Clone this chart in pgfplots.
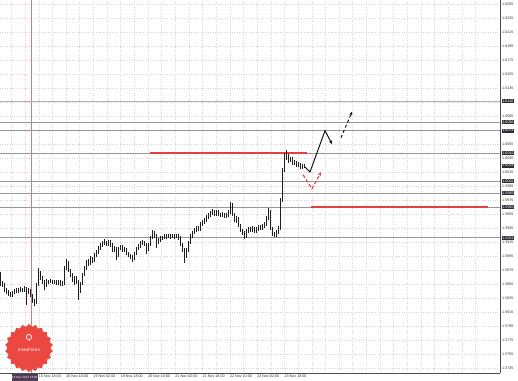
\documentclass[border=0pt]{standalone}
\usepackage{pgfplots}
\pgfplotsset{compat=1.18}
\usepackage{pgfplotstable}
\usepackage{fontspec}
\setmainfont{Liberation Sans}
\usetikzlibrary{shapes.geometric,arrows.meta}
\definecolor{levelgray}{RGB}{150,150,150}
\definecolor{lvlred}{RGB}{228,64,64}
\definecolor{boxc}{RGB}{45,45,55}
\definecolor{datebox}{RGB}{80,60,85}
\definecolor{logored}{RGB}{234,72,64}
\definecolor{sepline}{RGB}{205,125,125}
\definecolor{candle}{RGB}{30,30,30}

\pgfplotstableread{
x o h l c
0 1.5860 1.5872 1.5852 1.5856
2 1.5856 1.5859 1.5851 1.5854
4 1.5854 1.5856 1.5843 1.5846
6 1.5846 1.5849 1.5841 1.5844
8 1.5844 1.5847 1.5838 1.5841
10 1.5841 1.5843 1.5836 1.5839
12 1.5839 1.5845 1.5837 1.5842
14 1.5842 1.5848 1.5840 1.5845
16 1.5845 1.5849 1.5842 1.5846
18 1.5846 1.5850 1.5842 1.5845
20 1.5845 1.5851 1.5843 1.5848
22 1.5848 1.5850 1.5843 1.5846
24 1.5846 1.5852 1.5844 1.5848
26 1.5848 1.5850 1.5825 1.5844
28 1.5844 1.5849 1.5840 1.5846
30 1.5846 1.5848 1.5836 1.5839
32 1.5839 1.5841 1.5828 1.5831
34 1.5831 1.5834 1.5823 1.5828
36 1.5828 1.5856 1.5826 1.5854
38 1.5854 1.5878 1.5852 1.5872
40 1.5872 1.5874 1.5860 1.5864
42 1.5864 1.5866 1.5855 1.5858
44 1.5858 1.5860 1.5846 1.5852
46 1.5852 1.5862 1.5850 1.5859
48 1.5859 1.5861 1.5855 1.5858
50 1.5858 1.5862 1.5856 1.5859
52 1.5859 1.5861 1.5855 1.5858
54 1.5858 1.5860 1.5855 1.5858
56 1.5858 1.5860 1.5853 1.5856
58 1.5856 1.5861 1.5854 1.5858
60 1.5858 1.5860 1.5852 1.5855
62 1.5855 1.5859 1.5852 1.5856
64 1.5856 1.5881 1.5854 1.5878
66 1.5878 1.5891 1.5875 1.5886
68 1.5886 1.5888 1.5872 1.5875
70 1.5875 1.5877 1.5865 1.5868
72 1.5868 1.5870 1.5858 1.5861
74 1.5861 1.5867 1.5854 1.5864
76 1.5864 1.5866 1.5855 1.5858
78 1.5858 1.5860 1.5832 1.5846
80 1.5846 1.5858 1.5842 1.5856
82 1.5856 1.5871 1.5853 1.5869
84 1.5869 1.5880 1.5866 1.5878
86 1.5878 1.5889 1.5875 1.5886
88 1.5886 1.5890 1.5880 1.5885
90 1.5885 1.5895 1.5882 1.5892
92 1.5892 1.5894 1.5885 1.5889
94 1.5889 1.5899 1.5886 1.5896
96 1.5896 1.5904 1.5893 1.5901
98 1.5901 1.5909 1.5898 1.5906
100 1.5906 1.5914 1.5903 1.5911
102 1.5911 1.5917 1.5908 1.5914
104 1.5914 1.5919 1.5911 1.5915
106 1.5915 1.5917 1.5909 1.5912
108 1.5912 1.5918 1.5909 1.5916
110 1.5916 1.5918 1.5908 1.5911
112 1.5911 1.5913 1.5901 1.5904
114 1.5904 1.5909 1.5901 1.5906
116 1.5906 1.5908 1.5889 1.5896
118 1.5896 1.5908 1.5894 1.5906
120 1.5906 1.5911 1.5903 1.5908
122 1.5908 1.5910 1.5901 1.5904
124 1.5904 1.5908 1.5901 1.5905
126 1.5905 1.5907 1.5896 1.5899
128 1.5899 1.5901 1.5893 1.5896
130 1.5896 1.5898 1.5890 1.5894
132 1.5894 1.5896 1.5886 1.5891
134 1.5891 1.5900 1.5889 1.5898
136 1.5898 1.5908 1.5896 1.5906
138 1.5906 1.5912 1.5903 1.5909
140 1.5909 1.5916 1.5906 1.5914
142 1.5914 1.5918 1.5911 1.5915
144 1.5915 1.5917 1.5909 1.5912
146 1.5912 1.5914 1.5898 1.5904
148 1.5904 1.5913 1.5902 1.5911
150 1.5911 1.5923 1.5909 1.5921
152 1.5921 1.5932 1.5919 1.5928
154 1.5928 1.5930 1.5921 1.5924
156 1.5924 1.5926 1.5906 1.5915
158 1.5915 1.5920 1.5912 1.5918
160 1.5918 1.5924 1.5915 1.5922
162 1.5922 1.5924 1.5918 1.5921
164 1.5921 1.5926 1.5919 1.5924
166 1.5924 1.5926 1.5919 1.5922
168 1.5922 1.5926 1.5920 1.5924
170 1.5924 1.5926 1.5919 1.5922
172 1.5922 1.5926 1.5920 1.5924
174 1.5924 1.5926 1.5919 1.5922
176 1.5922 1.5927 1.5920 1.5924
178 1.5924 1.5926 1.5918 1.5921
180 1.5921 1.5923 1.5909 1.5912
182 1.5912 1.5914 1.5900 1.5904
184 1.5904 1.5906 1.5885 1.5895
186 1.5895 1.5906 1.5892 1.5904
188 1.5904 1.5917 1.5901 1.5915
190 1.5915 1.5926 1.5912 1.5924
192 1.5924 1.5931 1.5921 1.5929
194 1.5929 1.5935 1.5926 1.5932
196 1.5932 1.5938 1.5929 1.5935
198 1.5935 1.5938 1.5931 1.5934
200 1.5934 1.5943 1.5931 1.5941
202 1.5941 1.5947 1.5938 1.5944
204 1.5944 1.5949 1.5941 1.5946
206 1.5946 1.5953 1.5943 1.5951
208 1.5951 1.5957 1.5948 1.5954
210 1.5954 1.5959 1.5951 1.5956
212 1.5956 1.5962 1.5953 1.5958
214 1.5958 1.5960 1.5952 1.5955
216 1.5955 1.5960 1.5952 1.5958
218 1.5958 1.5960 1.5952 1.5955
220 1.5955 1.5957 1.5951 1.5954
222 1.5954 1.5958 1.5951 1.5955
224 1.5955 1.5957 1.5949 1.5952
226 1.5952 1.5957 1.5949 1.5954
228 1.5954 1.5961 1.5951 1.5958
230 1.5958 1.5972 1.5955 1.5968
232 1.5968 1.5970 1.5952 1.5955
234 1.5955 1.5957 1.5943 1.5946
236 1.5946 1.5952 1.5942 1.5949
238 1.5949 1.5951 1.5936 1.5939
240 1.5939 1.5941 1.5929 1.5932
242 1.5932 1.5934 1.5925 1.5928
244 1.5928 1.5930 1.5919 1.5924
246 1.5924 1.5933 1.5921 1.5931
248 1.5931 1.5937 1.5928 1.5934
250 1.5934 1.5936 1.5929 1.5932
252 1.5932 1.5938 1.5929 1.5935
254 1.5935 1.5937 1.5928 1.5931
256 1.5931 1.5937 1.5928 1.5934
258 1.5934 1.5939 1.5931 1.5936
260 1.5936 1.5939 1.5932 1.5935
262 1.5935 1.5941 1.5932 1.5938
264 1.5938 1.5944 1.5935 1.5941
266 1.5941 1.5952 1.5938 1.5949
268 1.5949 1.5964 1.5946 1.5958
270 1.5958 1.5960 1.5932 1.5935
272 1.5935 1.5937 1.5923 1.5926
274 1.5926 1.5929 1.5922 1.5925
276 1.5925 1.5932 1.5922 1.5929
278 1.5929 1.5938 1.5926 1.5935
280 1.5935 1.5978 1.5932 1.5975
282 1.5975 1.6021 1.5972 1.6018
284 1.6018 1.6042 1.6015 1.6039
286 1.6039 1.6046 1.6032 1.6038
288 1.6038 1.6040 1.6028 1.6032
290 1.6032 1.6037 1.6029 1.6034
292 1.6034 1.6036 1.6025 1.6028
294 1.6028 1.6032 1.6025 1.6029
296 1.6029 1.6031 1.6022 1.6025
298 1.6025 1.6029 1.6022 1.6026
300 1.6026 1.6028 1.6019 1.6022
302 1.6022 1.6027 1.6019 1.6024
304 1.6024 1.6026 1.6021 1.6024
}\candles

\begin{document}
\begin{tikzpicture}
\begin{axis}[
  at={(0,8bp)}, anchor=south west,
  scale only axis, width=500bp, height=373bp,
  xmin=0, xmax=500, ymin=1.572786, ymax=1.626071,
  axis x line*=bottom, axis y line*=right,
  axis line style={black!70, line width=0.8pt},
  tick align=outside, major tick length=1.5bp, minor tick length=0pt,
  tick style={black!70, line width=0.5pt},
  xtick={11.4,38.7,66,93.3,120.6,147.9,175.2,202.5,229.8,257.1,284.4,311.7,339,366.3,393.6,420.9,448.2,475.5},
  xticklabels={,15 Nov 18:00,16 Nov 10:00,19 Nov 02:00,19 Nov 18:00,20 Nov 10:00,21 Nov 02:00,21 Nov 18:00,22 Nov 10:00,23 Nov 02:00,23 Nov 18:00,,,,,,,},
  minor x tick num=1,
  ytick={1.5735,1.5755,1.5775,1.5795,1.5815,1.5835,1.5855,1.5875,1.5895,1.5915,1.5935,1.5955,1.5975,1.5995,1.6015,1.6035,1.6055,1.6075,1.6095,1.6115,1.6135,1.6155,1.6175,1.6195,1.6215,1.6235,1.6255},
  yticklabels={1.5735,1.5755,1.5775,1.5795,1.5815,1.5835,1.5855,1.5875,1.5895,1.5915,1.5935,1.5955,1.5975,1.5995,1.6015,1.6035,1.6055,,1.6095,,1.6135,1.6155,1.6175,1.6195,1.6215,1.6235,1.6255},
  tick label style={font=\fontsize{3.7}{4}\selectfont, text=black!80},
  xticklabel style={anchor=north west, inner sep=0pt, xshift=0bp, yshift=-0.5bp},
  yticklabel style={anchor=west, inner sep=0pt, xshift=0.5bp},
  extra y ticks={1.6116,1.6086,1.6074,1.6042,1.6024,1.6002,1.5985,1.5965,1.5921},
  extra y tick labels={1.6116,1.6086,1.6074,1.6042,1.6024,1.6002,1.5985,1.5965,1.5921},
  extra y tick style={grid=none, yticklabel style={fill=boxc, text=white, inner sep=0.7pt, xshift=-0.5bp}},
  grid=both,
  major grid style={dotted, black!16, line width=0.35pt},
  minor grid style={dotted, black!16, line width=0.35pt},
]
% separator line
\addplot[sepline, line width=0.6pt] coordinates {(31,1.5728) (31,1.6261)};
% level lines
\addplot[levelgray!75, line width=1.3pt] coordinates {(0,1.6116) (500,1.6116)};
\addplot[levelgray, line width=0.9pt] coordinates {(0,1.6086) (500,1.6086)};
\addplot[levelgray, line width=0.9pt] coordinates {(0,1.6074) (500,1.6074)};
\addplot[levelgray, line width=0.9pt] coordinates {(0,1.6042) (500,1.6042)};
\addplot[levelgray, line width=0.9pt] coordinates {(0,1.6002) (500,1.6002)};
\addplot[levelgray, line width=0.9pt] coordinates {(0,1.5985) (500,1.5985)};
\addplot[levelgray, line width=0.9pt] coordinates {(0,1.5965) (500,1.5965)};
\addplot[levelgray, line width=0.9pt] coordinates {(0,1.5921) (500,1.5921)};
\addplot[lvlred, line width=1.2pt] coordinates {(150,1.6042) (307,1.6042)};
\addplot[lvlred, line width=1.2pt] coordinates {(311,1.5965) (488,1.5965)};
% candles: wicks
\addplot[draw=none, mark=none, error bars/.cd, y dir=plus, y explicit, error mark=none,
  error bar style={draw=candle, line width=0.4pt}]
  table[x=x, y=l, y error plus expr={\thisrow{h}-\thisrow{l}}] \candles;
% candles: bodies
\addplot[draw=none, mark=none, error bars/.cd, y dir=plus, y explicit, error mark=none,
  error bar style={draw=candle, line width=0.95pt}]
  table[x=x, y expr={min(\thisrow{o},\thisrow{c})}, y error plus expr={abs(\thisrow{c}-\thisrow{o})}] \candles;
% forecast arrows
\addplot[black, line width=0.9pt, -{Stealth[length=3.5bp,width=3bp]}] coordinates {(305,1.6022) (310,1.6015) (325,1.6074) (332,1.6055)};
\addplot[black, line width=0.9pt, dash pattern=on 3bp off 2.5bp, -{Stealth[length=3.5bp,width=3bp]}] coordinates {(341,1.6064) (352,1.6101)};
\addplot[lvlred, line width=1.1pt, dash pattern=on 3.5bp off 2bp, -{Stealth[length=4bp,width=3.5bp]}] coordinates {(303,1.6011) (312,1.5991) (321,1.6015)};
\end{axis}
% logo
\node[star, star points=22, star point ratio=1.12, fill=logored, minimum size=48bp, inner sep=0pt] at (29bp,33bp) {};
\draw[white, line width=0.7pt] (29bp,44bp) circle (2.6bp);
\draw[white, line width=0.6pt] (29bp,41.4bp) -- (29bp,39.5bp);
\node[text=white, font=\fontsize{4.6}{5}\selectfont, inner sep=0pt] at (29bp,31bp) {InstaForex};
% date box
\fill[datebox] (11.5bp,0bp) rectangle (38bp,7bp);
\node[text=white, font=\fontsize{3}{3.5}\selectfont, inner sep=0pt] at (24.75bp,3.6bp) {15 Nov 2012 13:00};
\pgfresetboundingbox
\useasboundingbox (0,0) rectangle (518bp,381bp);
\end{tikzpicture}
\end{document}
